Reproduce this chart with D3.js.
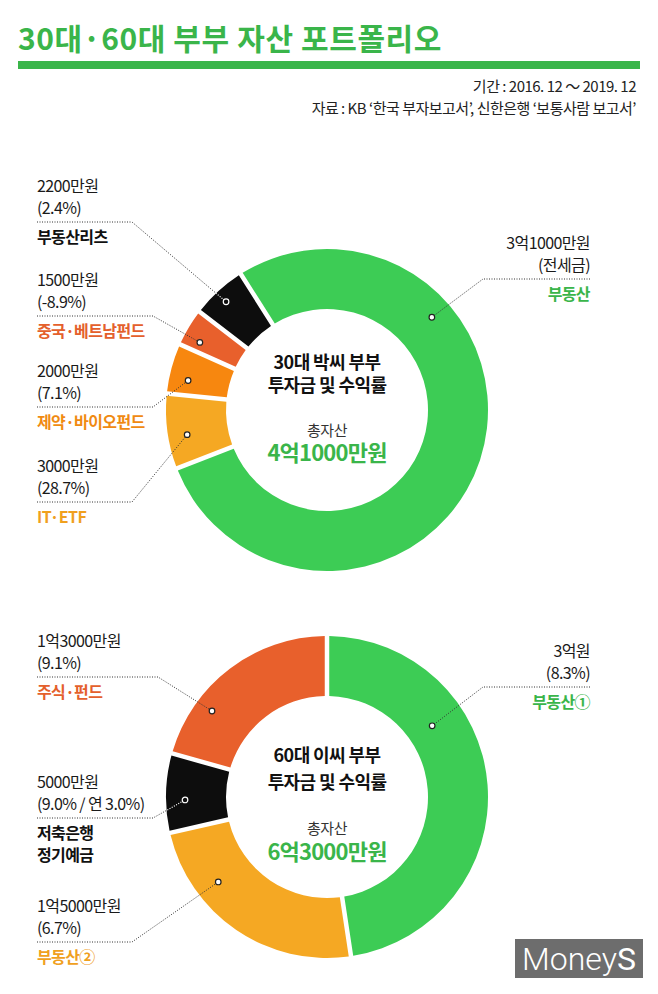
<!DOCTYPE html>
<html><head><meta charset="utf-8">
<script src="https://cdn.jsdelivr.net/npm/d3@7"></script>
<style>
body{margin:0;background:#fff;}
svg{display:block;font-family:"Noto Sans CJK KR","Noto Sans",sans-serif;}
</style></head><body>
<svg id="c" width="658" height="994"></svg>
<script>
// ---------- data ----------
const titleText = '30대·60대 부부 자산 포트폴리오';
const periodText = '기간 :  2016. 12 ～ 2019. 12';
const sourceText = '자료 : KB ‘한국 부자보고서’, 신한은행 ‘보통사람 보고서’';

const chart1Title = ['30대 박씨 부부', '투자금 및 수익률'];
const chart1TotalLabel = '총자산';
const chart1Total = '4억1000만원';
const chart1Categories = ['부동산', 'IT·ETF', '제약·바이오펀드', '중국·베트남펀드', '부동산리츠'];
const chart1Values = [31000, 3000, 2000, 1500, 2200]; // 만원
const chart1Amounts = ['3억1000만원', '3000만원', '2000만원', '1500만원', '2200만원'];
const chart1Returns = ['(전세금)', '(28.7%)', '(7.1%)', '(-8.9%)', '(2.4%)'];

const chart2Title = ['60대 이씨 부부', '투자금 및 수익률'];
const chart2TotalLabel = '총자산';
const chart2Total = '6억3000만원';
const chart2Categories = ['부동산①', '부동산②', '저축은행|정기예금', '주식·펀드'];
const chart2Values = [30000, 15000, 5000, 13000]; // 만원
const chart2Amounts = ['3억원', '1억5000만원', '5000만원', '1억3000만원'];
const chart2Returns = ['(8.3%)', '(6.7%)', '(9.0% / 연 3.0%)', '(9.1%)'];

// ---------- styles / layout ----------
const GREEN = '#3dcc55', TITLE_GREEN = '#3ab54a', RED = '#e8602c', ORANGE = '#f7870f', AMBER = '#f5a823', BLACK = '#0d0d0d';
const chart1Fill = [GREEN, AMBER, ORANGE, RED, BLACK];
const chart1Text = [TITLE_GREEN, '#f0a01e', '#f08a12', '#e4602c', '#111'];
const chart2Fill = [GREEN, AMBER, BLACK, RED];
const chart2Text = [TITLE_GREEN, '#f0a01e', '#111', '#e4602c'];

const R = 161, r = 101;
const charts = [
  {cx: 327, cy: 410, start: -32.4, title: chart1Title, totalLabel: chart1TotalLabel, total: chart1Total,
   cats: chart1Categories, vals: chart1Values, amts: chart1Amounts, rets: chart1Returns, fill: chart1Fill, tcol: chart1Text,
   // label layout: side, horizontal line y, elbow x, pointer angle (deg), pointer radius
   lab: [['R', 279, 483, 48.5, 140], ['L', 502, 132, 260, 142], ['L', 407, 153, 282, 142], ['L', 316, 153, 298, 144], ['L', 222, 132, 317, 148]],
   titleDy: [-41.5, -18.5, 25.5, 51]},
  {cx: 327, cy: 797, start: 0, title: chart2Title, totalLabel: chart2TotalLabel, total: chart2Total,
   cats: chart2Categories, vals: chart2Values, amts: chart2Amounts, rets: chart2Returns, fill: chart2Fill, tcol: chart2Text,
   lab: [['R', 687, 483, 55.9, 127], ['L', 942, 132, 232, 138], ['L', 818, 153, 268.8, 142], ['L', 677, 158, 306.8, 143.6]],
   titleDy: [-35.5, -8.5, 36.5, 63]}
];

const svg = d3.select('#c');
const rad = d => d * Math.PI / 180;

// header
svg.append('text').attr('x', 18).attr('y', 50).attr('font-size', 30).attr('font-weight', 700)
  .attr('letter-spacing', 0.6).attr('fill', TITLE_GREEN).text(titleText);
svg.append('rect').attr('x', 18).attr('y', 61).attr('width', 622).attr('height', 8).attr('fill', TITLE_GREEN);
svg.append('text').attr('x', 636).attr('y', 92).attr('text-anchor', 'end').attr('font-size', 15)
  .attr('letter-spacing', -0.5).attr('fill', '#222').text(periodText);
svg.append('text').attr('x', 636).attr('y', 114).attr('text-anchor', 'end').attr('font-size', 15)
  .attr('letter-spacing', -0.5).attr('fill', '#222').text(sourceText);

charts.forEach((c, ci) => {
  const g = svg.append('g').attr('transform', `translate(${c.cx},${c.cy})`);
  const data = c.vals.map((v, i) => ({i, value: v}));
  const pie = d3.pie().sort(null).value(d => d.value)
    .startAngle(rad(c.start)).endAngle(rad(c.start) + 2 * Math.PI);
  const arc = d3.arc().innerRadius(r).outerRadius(R).padAngle(4.5 / R).padRadius(R);
  const arcs = pie(data);
  g.selectAll('path.seg').data(arcs).join('path').attr('class', 'seg')
    .attr('d', arc).attr('fill', d => c.fill[d.data.i]);

  arcs.forEach(d => {
    g.append('clipPath').attr('id', `clip${ci}_${d.data.i}`)
      .append('path').attr('d', arc(d));
  });

  arcs.forEach(d => {
    const i = d.data.i;
    const [side, ly, ex, pa, pr] = c.lab[i];
    const px = pr * Math.sin(rad(pa)), py = -pr * Math.cos(rad(pa));
    const lyl = ly - c.cy;
    const x0 = side === 'L' ? 37 - c.cx : 590 - c.cx;
    const exl = ex - c.cx;
    const pts = [[x0, lyl], [exl, lyl], [px, py]];
    const line = d3.line();
    g.append('path').attr('d', line(pts)).attr('fill', 'none').attr('stroke', '#333')
      .attr('stroke-width', 1).attr('stroke-dasharray', '1,1.5');
    if (c.fill[i] === BLACK) {
      g.append('path').attr('d', line(pts)).attr('fill', 'none').attr('stroke', '#fff')
        .attr('stroke-width', 1.2).attr('stroke-dasharray', '1,1.5').attr('clip-path', `url(#clip${ci}_${i})`);
    }
    g.append('circle').attr('cx', px).attr('cy', py).attr('r', 2.8)
      .attr('fill', c.fill[i] === BLACK ? BLACK : '#fff')
      .attr('stroke', c.fill[i] === BLACK ? '#fff' : '#222').attr('stroke-width', 1.2);

    const anchor = side === 'L' ? 'start' : 'end';
    const tx = side === 'L' ? 37 : 590;
    const t = svg.append('g').attr('text-anchor', anchor).attr('letter-spacing', -0.6);
    t.append('text').attr('x', tx).attr('y', ly - 30).attr('font-size', 16).attr('fill', '#1a1a1a').text(c.amts[i]);
    t.append('text').attr('x', tx).attr('y', ly - 8.5).attr('font-size', 16).attr('fill', '#1a1a1a').text(c.rets[i]);
    c.cats[i].split('|').forEach((s, k) => {
      t.append('text').attr('x', tx).attr('y', ly + 21 + k * 22).attr('font-size', 16).attr('font-weight', 700)
        .attr('fill', c.tcol[i]).text(s);
    });
  });

  const ct = g.append('g').attr('text-anchor', 'middle');
  ct.append('text').attr('y', c.titleDy[0]).attr('font-size', 18).attr('font-weight', 700).attr('letter-spacing', -0.6).attr('fill', '#111').text(c.title[0]);
  ct.append('text').attr('y', c.titleDy[1]).attr('font-size', 18).attr('font-weight', 700).attr('letter-spacing', -0.6).attr('fill', '#111').text(c.title[1]);
  ct.append('text').attr('y', c.titleDy[2]).attr('font-size', 15).attr('letter-spacing', -0.5).attr('fill', '#333').text(c.totalLabel);
  ct.append('text').attr('y', c.titleDy[3]).attr('font-size', 22).attr('font-weight', 700).attr('letter-spacing', -0.8).attr('fill', TITLE_GREEN).text(c.total);
});

// logo
const logo = svg.append('g').attr('transform', 'translate(515,939)');
logo.append('rect').attr('width', 128).attr('height', 39).attr('fill', '#6d6d6d');
const lt = logo.append('text').attr('x', 64).attr('y', 31).attr('text-anchor', 'middle')
  .attr('font-family', 'Roboto, "Open Sans", sans-serif').attr('font-size', 32).attr('fill', '#fff');
lt.append('tspan').attr('font-weight', 300).text('Money');
lt.append('tspan').attr('font-weight', 400).text('S');
</script>
</body></html>
